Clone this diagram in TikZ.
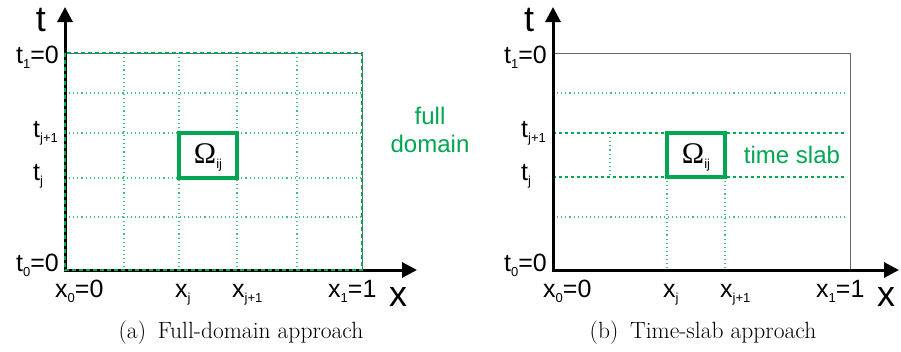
\documentclass[tikz,border=0pt]{standalone}
\usepackage{fontspec}
\setsansfont{Liberation Sans}
\newfontfamily\omegafont{Liberation Serif}
\usepackage{tikz}
\usetikzlibrary{arrows.meta, positioning}

\definecolor{domgreen}{RGB}{0,166,81}
\definecolor{gridgreen}{RGB}{70,190,120}
\newcommand{\lo}[1]{\raisebox{-5pt}{\fontsize{13}{13}\selectfont #1}}

\begin{document}
\begin{tikzpicture}[x=1pt, y=-1pt,
    axis/.style={line width=3pt, line join=miter,
        {Triangle[length=15pt,width=15pt]}-{Triangle[length=15pt,width=15pt]}},
    frame/.style={draw=black!60, line width=0.8pt},
    fullbd/.style={draw=domgreen, line width=1.2pt, dash pattern=on 4pt off 3pt},
    griddot/.style={draw=gridgreen, line width=1.1pt, dash pattern=on 1.1pt off 3pt},
    slabline/.style={draw=domgreen, line width=1.3pt, dash pattern=on 3pt off 3pt},
    cellbox/.style={draw=domgreen, line width=3.5pt},
    omega/.style={font=\omegafont\fontsize{30}{30}\selectfont, inner sep=0pt},
    lbl/.style={font=\sffamily\fontsize{25}{25}\selectfont, inner sep=0pt},
    axlbl/.style={font=\sffamily\fontsize{36}{36}\selectfont, inner sep=0pt},
    greentxt/.style={font=\sffamily\fontsize{24}{28}\selectfont, text=domgreen, inner sep=0pt, align=center},
    capt/.style={font=\rmfamily\fontsize{23.5}{23.5}\selectfont, inner sep=0pt}]
  \useasboundingbox (0,0) rectangle (901,351);

  % (a) full domain
  \coordinate (oa) at (65,270);
  \coordinate (ytipa) at (65,7);
  \coordinate (xtipa) at (417,270);
  \draw[frame] (65,53) rectangle (362,270);
  \foreach \xx in {124,179,237,297}
    \draw[griddot] (\xx,53) -- (\xx,270);
  \foreach \yy in {93,133,178,217}
    \draw[griddot] (65,\yy) -- (362,\yy);
  \draw[axis] (ytipa) -- (oa) -- (xtipa);
  \draw[fullbd] (65,53) rectangle (362,270);
  \draw[cellbox] (179,133) rectangle (237,178);
  \node[omega, anchor=base] (omegaa) at (208,163) {Ω\sffamily\lo{ij}};

  \node[axlbl] (ta) at (41,20) {t};
  \node[lbl, anchor=base east] (t1a) at (59,63) {t\lo{1}=0};
  \node[lbl, anchor=base west] (tj1a) at (33,137) {t\lo{j+1}};
  \node[lbl, anchor=base west] (tja) at (33,180) {t\lo{j}};
  \node[lbl, anchor=base east] (t0a) at (59,271) {t\lo{0}=0};
  \node[lbl, anchor=base west] (x0a) at (55,297) {x\lo{0}=0};
  \node[lbl, anchor=base west] (xja) at (175,297) {x\lo{j}};
  \node[lbl, anchor=base west] (xj1a) at (232,297) {x\lo{j+1}};
  \node[lbl, anchor=base west] (x1a) at (328,297) {x\lo{1}=1};
  \node[axlbl, anchor=base west] (xa) at (389,306) {x};
  \node[greentxt, anchor=base] (fulla) at (430,152) {full\\domain};
  \node[capt, anchor=base] (capa) at (241,338) {(a)\enspace Full-domain approach};

  % (b) time slab
  \begin{scope}[xshift=488pt]
    \coordinate (ob) at (65,270);
    \coordinate (ytipb) at (65,7);
    \coordinate (xtipb) at (411,270);
    \draw[frame] (65,53) rectangle (362,270);
    \foreach \yy in {93,217}
      \draw[griddot] (65,\yy) -- (359,\yy);
    \foreach \yy in {133,177}
      \draw[slabline] (65,\yy) -- (359,\yy);
    \draw[griddot] (122,133) -- (122,177);
    \foreach \xx in {179,237}
      \draw[griddot] (\xx,177) -- (\xx,270);
    \draw[axis] (ytipb) -- (ob) -- (xtipb);
    \draw[cellbox] (179,133) rectangle (237,177);
    \node[omega, anchor=base] (omegab) at (208,163) {Ω\sffamily\lo{ij}};

    \node[axlbl] (tb) at (41,20) {t};
    \node[lbl, anchor=base east] (t1b) at (59,63) {t\lo{1}=0};
    \node[lbl, anchor=base west] (tj1b) at (33,137) {t\lo{j+1}};
    \node[lbl, anchor=base west] (tjb) at (33,180) {t\lo{j}};
    \node[lbl, anchor=base east] (t0b) at (59,271) {t\lo{0}=0};
    \node[lbl, anchor=base west] (x0b) at (55,297) {x\lo{0}=0};
    \node[lbl, anchor=base west] (xjb) at (175,297) {x\lo{j}};
    \node[lbl, anchor=base west] (xj1b) at (232,297) {x\lo{j+1}};
    \node[lbl, anchor=base west] (x1b) at (328,297) {x\lo{1}=1};
    \node[axlbl, anchor=base west] (xb) at (389,306) {x};
    \node[greentxt, anchor=base] (slabb) at (304,163) {time slab};
    \node[capt, anchor=base] (capb) at (215,338) {(b)\enspace Time-slab approach};
  \end{scope}
\end{tikzpicture}
\end{document}
